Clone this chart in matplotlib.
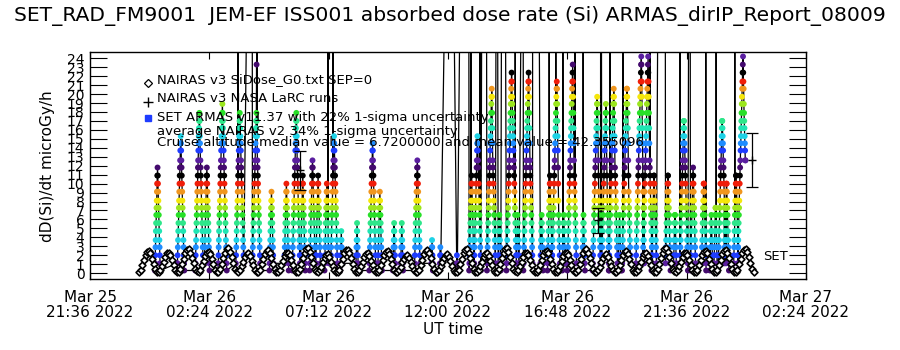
import matplotlib
matplotlib.use("Agg")
import matplotlib.pyplot as plt
import numpy as np

title = "SET_RAD_FM9001  JEM-EF ISS001 absorbed dose rate (Si) ARMAS_dirIP_Report_08009"

# time axis in minutes after 2022-03-25 21:36 UT
x_ticks = [0, 288, 576, 864, 1152, 1440, 1728]
x_labels = ["Mar 25\n21:36 2022", "Mar 26\n02:24 2022", "Mar 26\n07:12 2022",
            "Mar 26\n12:00 2022", "Mar 26\n16:48 2022", "Mar 26\n21:36 2022",
            "Mar 27\n02:24 2022"]
y_ticks = list(range(25))

# ARMAS dose rate is quantized; each pass below lists the level index per 30 s sample
dose_levels = [0.3, 1.1, 2.0, 2.9, 3.7, 4.7, 5.6, 6.5, 7.3, 8.1, 9.1, 10.0, 10.9, 11.8,
               12.6, 13.7, 14.5, 15.3, 16.2, 17.0, 17.9, 18.9, 19.7, 20.6, 21.4, 22.4, 23.3, 24.2]
palette = ["#440a6e", "#5a1ea0", "#1e3cff", "#1e8cff", "#1ed2e6", "#20e6b4", "#2ee68a",
           "#28e028", "#9be61e", "#f5e60a", "#f0961e", "#f01e0a", "#000000"]

armas_start = [156, 210, 254, 276, 309, 352, 392, 433, 469, 488, 508, 530, 545, 566, 581,
               604, 642, 674, 695, 731, 750, 783, 824, 844, 885, 915, 927, 958, 985, 1005,
               1029, 1046, 1087, 1104, 1115, 1140, 1152, 1188, 1213, 1235, 1252, 1275, 1284,
               1317, 1334, 1355, 1389, 1408, 1424, 1449, 1476, 1496, 1506, 1516, 1531, 1553, 1563]
armas_levels = [
    [1,0,1,2,3,4,5,6,7,8,9,10,11,12,13,12,11,10,9,8,7,6,5,4,3,2,1,0],
    [1,0,1,2,3,4,5,6,7,8,9,10,11,12,13,14,15,16,17,16,15,14,13,12,11,10,9,8,7,6,5,4,3,2,1,0],
    [0,1,2,3,4,5,6,7,8,9,10,11,12,13,14,15,16,17,18,19,20,19,17,16,15,14,13,12,11,10,9,8,7,6,5,4,3,2,1],
    [1,2,3,4,5,6,7,8,9,10,11,12,13,12,11,10,9,8,7,6,5,4,3,2,1,0],
    [0,1,2,3,4,5,6,7,8,9,10,11,12,13,14,15,16,17,18,19,20,21,20,19,18,17,16,15,14,13,12,11,10,9,8,7,6,5,4,3,2,1,0],
    [1,2,3,4,5,6,7,8,9,10,11,12,13,14,15,16,17,18,19,20,19,18,17,16,15,14,13,12,11,10,9,8,7,6,5,4,3,2,1],
    [1,2,3,4,5,6,7,8,9,10,11,12,13,14,15,16,17,18,19,20,26,19,17,15,14,13,12,11,10,9,8,7,6,5,4,3,2,1,0],
    [0,1,2,3,4,5,6,7,8,9,10,9,8,7,6,5,4,3,2,1],
    [1,2,3,4,5,6,7,8,9,10,11,10,9,8,7,6,5,4,3,2,1,0],
    [0,1,2,3,4,5,6,7,8,9,10,11,12,13,14,15,16,17,18,19,20,19,17,15,14,13,12,11,10,9,8,7,6,5,4,3,2,1],
    [1,2,3,4,5,6,7,8,9,10,11,12,11,10,9,8,7,6,5,4,3,2,1,0],
    [0,1,2,3,4,5,6,7,8,9,10,11,12,13,14,13,12,11,10,9,8,7,6,5,4,3,2,1],
    [1,2,3,4,5,6,7,8,9,10,11,12,11,10,9,8,7,6,5,4,3,2,1,0],
    [0,1,2,3,4,5,6,7,8,9,10,11,10,9,8,7,6,5,4,3,2,1],
    [1,2,3,4,5,6,7,8,9,10,11,12,13,14,15,16,17,16,15,14,13,12,11,10,9,8,7,6,5,4,3,2,1,0],
    [0,1,2,3,4,5,4,3,2,1],
    [1,2,3,4,5,6,5,4,3,2,1,0],
    [0,1,2,3,4,5,6,7,8,9,10,11,12,13,14,15,16,15,14,13,12,11,10,9,8,7,6,5,4,3,2,1],
    [1,2,3,4,5,6,7,8,9,10,9,8,7,6,5,4,3,2,1,0],
    [0,1,2,3,4,5,6,5,4,3,2,1],
    [1,2,3,4,5,6,5,4,3,2,1,0],
    [0,1,2,3,4,5,6,7,8,9,10,11,12,13,14,13,12,11,10,9,8,7,6,5,4,3,2,1],
    [1,2,3,4,3,2,1,0],
    [0,1,2,3,2,1],
    [1,2,1,0],
    [0,1,2,3,4,5,6,7,8,9,10,11,12,11,10,9,8,7,6,5,4,3,2,1],
    [1,2,3,4,5,6,7,8,9,10,11,12,13,14,15,16,17,16,15,14,13,12,11,10,9,8,7,6,5,4,3,2,1,0],
    [0,1,2,3,4,5,6,7,8,9,10,11,12,13,14,15,16,17,18,19,20,21,22,23,22,20,18,16,14,13,12,11,10,9,8,7,6,5,4,3,2,1],
    [1,2,3,4,5,6,7,6,5,4,3,2,1,0],
    [0,1,2,3,4,5,6,7,8,9,10,11,12,13,14,15,16,17,18,19,20,21,22,23,24,25,24,22,21,20,19,18,17,16,15,14,13,12,11,10,9,8,7,6,5,4,3,2,1],
    [1,2,3,4,5,6,7,6,5,4,3,2,1,0],
    [0,1,2,3,4,5,6,7,8,9,10,11,12,13,14,15,16,17,18,19,20,21,22,23,24,25,24,22,20,18,16,14,13,12,11,10,9,8,7,6,5,4,3,2,1],
    [1,2,3,4,5,6,7,6,5,4,3,2,1,0],
    [0,1,2,3,4,5,6,7,8,9,10,11,12,11,10,9,8,7,6,5,4,3,2,1],
    [1,2,3,4,5,6,7,8,9,10,11,12,13,14,15,16,17,18,19,20,21,22,23,24,23,21,19,17,15,13,11,9,7,6,5,4,3,2,1,0],
    [0,1,2,3,4,5,6,7,6,5,4,3,2,1],
    [0,1,2,3,4,5,6,7,8,9,10,11,12,13,14,15,16,17,18,19,20,21,22,23,24,25,26,24,22,20,18,16,14,12,11,10,9,8,7,6,5,4,3,2,1],
    [1,2,3,4,5,6,7,6,5,4,3,2,1,0],
    [0,1,2,3,4,5,6,7,8,9,10,11,12,13,14,15,16,17,18,19,20,21,22,21,20,18,16,14,12,10,9,8,7,6,5,4,3,2,1],
    [1,2,3,4,5,6,7,8,9,10,11,12,13,14,15,16,17,18,19,20,21,20,18,16,14,12,10,9,8,7,6,5,4,3,2,1,0],
    [0,1,2,3,4,5,6,7,8,9,10,11,12,12,13,14,15,16,17,18,19,20,21,22,23,22,21,19,17,15,13,12,11,10,9,8,7,6,5,4,3,2,1],
    [1,2,3,4,5,6,7,6,5,4,3,2,1,0],
    [0,1,2,3,4,5,6,7,8,9,10,11,12,13,14,15,16,17,18,19,20,21,22,23,23,22,21,20,18,16,14,12,10,9,8,7,6,5,4,3,2,1],
    [0,1,2,3,4,5,6,7,8,9,10,11,12,13,14,15,16,17,18,19,20,21,22,23,24,25,26,27,26,24,22,20,18,16,14,12,10,8,6,4,2,1],
    [1,2,3,4,5,6,7,8,9,10,11,12,13,14,15,16,17,18,19,20,21,22,23,24,25,26,27,25,24,22,20,18,16,14,13,12,11,10,9,8,7,6,5,4,3,2,1,0],
    [0,1,2,3,4,5,6,7,8,9,10,11,12,12,11,10,9,8,7,6,5,4,3,2,1],
    [1,2,3,4,5,6,7,8,9,10,11,12,12,11,10,9,8,7,6,5,4,3,2,1,0],
    [0,1,2,3,4,5,6,7,7,6,5,4,3,2,1],
    [1,2,3,4,5,6,7,8,9,10,11,12,13,14,15,16,17,18,19,19,18,17,16,15,14,13,12,11,10,9,8,7,6,5,4,3,2,1,0],
    [0,1,2,3,4,5,6,7,8,9,10,11,12,13,12,11,10,9,8,7,6,5,4,3,2,1],
    [1,2,3,4,5,6,7,8,9,10,11,11,10,9,8,7,6,5,4,3,2,1,0],
    [0,1,2,3,4,5,6,7,6,5,4,3,2,1],
    [1,2,3,4,5,6,7,8,8,7,6,5,4,3,2,1,0],
    [0,1,2,3,4,5,6,7,8,9,10,11,12,13,14,15,16,17,18,19,19,18,17,16,15,14,13,12,11,10,9,8,7,6,5,4,3,2,1],
    [1,2,3,4,5,6,7,8,9,10,11,11,10,9,8,7,6,5,4,3,2,1,0],
    [0,1,2,3,4,5,6,7,8,9,10,11,12,12,11,10,9,8,7,6,5,4,3,2,1],
    [1,2,3,4,5,6,7,8,9,10,11,12,13,14,15,16,17,18,19,20,21,22,23,24,25,26,27,25,24,23,21,20,19,18,17,16,15,14,14],
]

# off-scale SAA spikes (microGy/h)
spike_min = [357, 391, 403, 574, 586, 869, 912, 919, 941, 953, 982, 997, 1026, 1045, 1069,
             1079, 1108, 1124, 1141, 1170, 1190, 1233, 1255, 1286, 1351, 1375, 1387, 1424,
             1448, 1486, 1511, 1556]
spike_dose = [55, 80, 48, 62, 95, 70, 120, 66, 88, 150, 74, 102, 90, 58, 130, 77, 110, 64,
              98, 140, 72, 85, 60, 118, 92, 68, 105, 57, 83, 76, 61, 69]

# NAIRAS v3 model along track, 4 min samples starting at minute 118
nairas_start = 118
nairas_step = 4
nairas_humps = [
    [0.1,0.4,0.9,1.5,2.0,2.4,2.5,2.2,1.6,1.0,0.5,0.1],
    [0.1,0.3,0.8,1.3,1.8,2.2,2.3,2.0,1.5,0.9,0.4,0.1],
    [0.1,0.5,1.0,1.6,2.2,2.6,2.7,2.3,1.7,1.1,0.5,0.2],
    [0.1,0.4,0.9,1.4,1.9,2.3,2.4,2.1,1.6,1.0,0.4,0.1],
    [0.1,0.5,1.0,1.7,2.3,2.7,2.8,2.4,1.8,1.1,0.5,0.2],
    [0.1,0.3,0.8,1.3,1.8,2.1,2.2,1.9,1.4,0.9,0.4,0.1],
    [0.1,0.4,1.0,1.6,2.1,2.5,2.6,2.2,1.7,1.0,0.5,0.1],
    [0.1,0.4,0.9,1.4,1.9,2.2,2.3,2.0,1.5,0.9,0.4,0.1],
    [0.1,0.5,1.0,1.7,2.3,2.7,2.8,2.4,1.8,1.1,0.5,0.2],
    [0.1,0.3,0.7,1.2,1.7,2.0,2.1,1.8,1.3,0.8,0.4,0.1],
    [0.1,0.4,1.0,1.6,2.2,2.6,2.6,2.3,1.7,1.0,0.5,0.1],
    [0.1,0.3,0.8,1.3,1.8,2.1,2.2,1.9,1.4,0.9,0.4,0.1],
    [0.1,0.4,0.9,1.5,2.0,2.4,2.5,2.1,1.6,1.0,0.4,0.1],
    [0.1,0.3,0.7,1.2,1.6,1.9,2.0,1.7,1.3,0.8,0.3,0.1],
    [0.1,0.4,0.9,1.5,2.1,2.5,2.6,2.2,1.7,1.0,0.5,0.1],
    [0.1,0.3,0.8,1.2,1.7,2.0,2.1,1.8,1.4,0.8,0.4,0.1],
    [0.1,0.4,1.0,1.6,2.2,2.6,2.7,2.3,1.7,1.1,0.5,0.1],
    [0.1,0.3,0.8,1.3,1.8,2.1,2.2,1.9,1.4,0.9,0.4,0.1],
    [0.1,0.5,1.0,1.7,2.3,2.7,2.8,2.4,1.8,1.1,0.5,0.2],
    [0.1,0.3,0.8,1.3,1.8,2.2,2.3,2.0,1.5,0.9,0.4,0.1],
    [0.1,0.4,0.9,1.5,2.0,2.4,2.5,2.2,1.6,1.0,0.5,0.1],
    [0.1,0.3,0.8,1.4,1.9,2.2,2.3,2.0,1.5,0.9,0.4,0.1],
    [0.1,0.4,1.0,1.6,2.2,2.6,2.7,2.3,1.7,1.1,0.5,0.1],
    [0.1,0.3,0.7,1.2,1.7,2.0,2.1,1.8,1.3,0.8,0.4,0.1],
    [0.1,0.4,0.9,1.5,2.0,2.4,2.5,2.1,1.6,1.0,0.4,0.1],
    [0.1,0.3,0.8,1.3,1.8,2.1,2.2,1.9,1.4,0.9,0.4,0.1],
    [0.1,0.5,1.0,1.7,2.3,2.7,2.8,2.4,1.8,1.1,0.5,0.2],
    [0.1,0.3,0.8,1.3,1.8,2.2,2.3,2.0,1.5,0.9,0.4,0.1],
    [0.1,0.4,0.9,1.5,2.0,2.4,2.5,2.2,1.6,1.0,0.5,0.1],
    [0.1,0.4,0.9,1.5,2.1,2.5,2.6,2.2,1.7,1.0,0.5,0.1],
    [0.1,0.4,1.0,1.6,2.2,2.6,2.7,2.4,1.8,1.1,0.5,0.1],
]

# NAIRAS v2 averages with 1-sigma bars
errbar_min = [507, 1226, 1597]
errbar_dose = [11.5, 5.9, 12.6]
errbar_sigma = [2.2, 1.4, 3.0]

legend_lines = ["NAIRAS v3 SiDose_G0.txt SEP=0",
                "NAIRAS v3 NASA LaRC runs",
                "SET ARMAS v11.37 with 22% 1-sigma uncertainty",
                "average NAIRAS v2 34% 1-sigma uncertainty",
                "Cruise altitude median value = 6.7200000 and mean value = 42.355096"]

# build ARMAS series
t, v, col = [], [], []
for t0, lev in zip(armas_start, armas_levels):
    for i, k in enumerate(lev):
        t.append(t0 + 0.5 * i)
        v.append(dose_levels[k])
        col.append(palette[k % len(palette)])
order = np.argsort(np.array(t + spike_min, dtype=float), kind="stable")
line_t = np.array(t + spike_min, dtype=float)[order]
line_v = np.array(v + spike_dose, dtype=float)[order]

nairas_v = np.concatenate(nairas_humps)
nairas_t = nairas_start + nairas_step * np.arange(len(nairas_v))

fig = plt.figure(figsize=(9, 3.5), dpi=100)
ax = fig.add_axes([90 / 900, 1 - 279 / 350, 716 / 900, 227 / 350])

ax.plot(line_t, line_v, color="black", lw=0.9, zorder=2)
ax.scatter(t, v, c=col, s=18, marker="o", linewidths=0, zorder=3)
ax.scatter(nairas_t, nairas_v, marker="D", s=12, facecolors="white",
           edgecolors="black", linewidths=1.2, zorder=4)
ax.errorbar(errbar_min, errbar_dose, yerr=errbar_sigma, fmt="+", color="black",
            ms=6, lw=0.9, capsize=4, capthick=0.9, zorder=5)

ax.set_xlim(0, 1728)
ax.set_ylim(-0.65, 24.7)
ax.set_xticks(x_ticks)
ax.set_xticklabels(x_labels, fontsize=11, linespacing=1.0)
ax.set_yticks(y_ticks)
ax.set_yticklabels([str(y) for y in y_ticks], fontsize=10)
ax.tick_params(axis="y", direction="in", length=12, width=0.8, right=True, pad=4)
ax.tick_params(axis="x", direction="in", length=5, width=0.8, top=True, pad=8)
for s in ax.spines.values():
    s.set_linewidth(1.0)

def ax_xy(px, py):
    return (px - 90) / 716, (279 - py) / 227

# legend text inside the plot
ax.plot(*ax_xy(148, 83), marker="D", ms=4, mfc="white", mec="black", mew=0.9,
        transform=ax.transAxes, clip_on=False, zorder=6)
ax.plot(*ax_xy(148, 102), marker="+", ms=7, color="black", mew=1.0,
        transform=ax.transAxes, clip_on=False, zorder=6)
ax.plot(*ax_xy(148, 118), marker="s", ms=4, color="#1e3cff",
        transform=ax.transAxes, clip_on=False, zorder=6)
for (px, py), txt in zip([(157, 80), (157, 99), (157, 118), (157, 131), (157, 142)], legend_lines):
    ax.text(*ax_xy(px, py), txt, transform=ax.transAxes, fontsize=9.5,
            ha="left", va="center", zorder=6)
ax.text(*ax_xy(763, 256), "SET", transform=ax.transAxes, fontsize=9.5,
        ha="left", va="center", zorder=6)

fig.text(0.5, 1 - 16 / 350, title, ha="center", va="center", fontsize=14.6)
fig.text(48 / 900, 1 - 166 / 350, "dD(Si)/dt microGy/h", rotation=90,
         ha="center", va="center", fontsize=11)
fig.text(453 / 900, 1 - 330 / 350, "UT time", ha="center", va="center", fontsize=11)

fig.savefig("out.png", dpi=100)
